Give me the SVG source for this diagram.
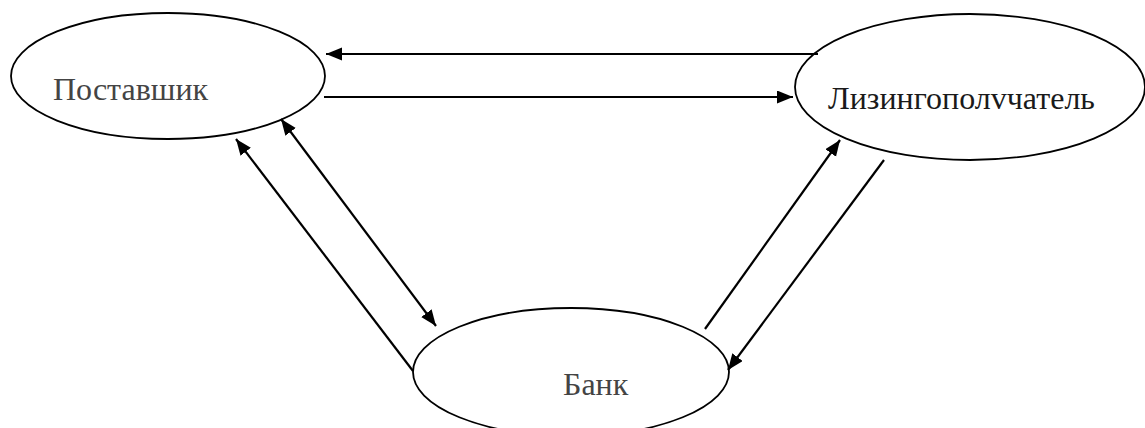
<svg xmlns="http://www.w3.org/2000/svg" width="1145" height="428" viewBox="0 0 1145 428">
<style>
.node{fill:#fff;stroke:#000;stroke-width:1.8}
.lbl{font-family:"Liberation Serif","Times New Roman",serif;font-size:32px}
.conn{stroke:#000;stroke-width:2.2;fill:none}
</style>
<defs>
<marker id="ah" markerUnits="userSpaceOnUse" markerWidth="18" markerHeight="14" refX="16" refY="6.5" orient="auto-start-reverse">
<path d="M0,0 L16,6.5 L0,13 z" fill="#000"/>
</marker>
</defs>
<rect width="1145" height="428" fill="#fff"/>
<g id="postavshik">
<ellipse class="node" cx="168" cy="76" rx="157" ry="63"/>
<text class="lbl" x="53" y="100" fill="#444">Поставшик</text>
</g>
<g id="lizingopoluchatel">
<ellipse class="node" cx="970" cy="87" rx="175" ry="73"/>
<text class="lbl" x="828" y="109" fill="#1a1a1a">Лизингополvчатель</text>
</g>
<g id="bank">
<ellipse class="node" cx="571" cy="372" rx="158" ry="64"/>
<text class="lbl" x="563" y="395" fill="#444">Банк</text>
</g>
<g id="connectors">
<line class="conn" x1="818" y1="54" x2="326" y2="54" marker-end="url(#ah)"/>
<line class="conn" x1="324" y1="97" x2="793" y2="97" marker-end="url(#ah)"/>
<line class="conn" x1="413" y1="371" x2="236" y2="139" marker-end="url(#ah)"/>
<line class="conn" x1="281" y1="119" x2="436" y2="326" marker-start="url(#ah)" marker-end="url(#ah)"/>
<line class="conn" x1="705" y1="329" x2="840" y2="140" marker-end="url(#ah)"/>
<line class="conn" x1="884" y1="160" x2="728" y2="370" marker-end="url(#ah)"/>
</g>
</svg>
